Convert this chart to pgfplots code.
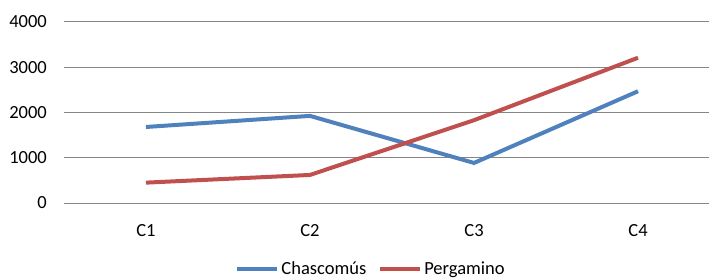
\documentclass[border=0pt]{standalone}
\usepackage{pgfplots}
\pgfplotsset{compat=1.18}
\usepackage{fontspec}
\setmainfont{Carlito}
\definecolor{xblue}{HTML}{4F81BD}
\definecolor{xred}{HTML}{C0504D}
\definecolor{xgrid}{HTML}{868686}
\begin{document}
\begin{tikzpicture}[x=1bp,y=1bp]
\begin{axis}[
  at={(64bp,76bp)}, anchor=south west,
  scale only axis,
  width=656bp, height=181bp,
  xmin=-0.5, xmax=3.5,
  ymin=0, ymax=4000,
  xtick={0,1,2,3}, xticklabels={C1,C2,C3,C4},
  ytick={0,1000,2000,3000,4000},
  major tick length=0pt,
  axis line style={draw=none},
  ymajorgrids,
  major grid style={xgrid, line width=1bp},
  font=\fontsize{18.5bp}{22bp}\selectfont,
  ticklabel style={font=\fontsize{18.5bp}{22bp}\selectfont},
  /pgf/number format/assume math mode=true,
  /pgf/number format/1000 sep={},
  yticklabel style={anchor=east, inner sep=0pt, xshift=-17bp},
  xticklabel style={anchor=north, inner sep=0pt, yshift=-21bp},
  legend columns=2,
  legend style={draw=none, fill=none, at={(0.468,-0.362)}, anchor=center,
    font=\fontsize{18.5bp}{22bp}\selectfont,
    /tikz/every even column/.append style={column sep=10bp},
    inner sep=0pt},
  legend image code/.code={\draw[#1, line width=4bp] (0bp,0bp) -- (40bp,0bp);},
]
\addplot[xblue, line width=4bp] coordinates {(0,1680) (1,1925) (2,885) (3,2470)};
\addlegendentry{Chascomús}
\addplot[xred, line width=4bp] coordinates {(0,450) (1,620) (2,1830) (3,3210)};
\addlegendentry{Pergamino}
\end{axis}
\pgfresetboundingbox
\path[use as bounding box] (0,0) rectangle (709,279);
\end{tikzpicture}
\end{document}
